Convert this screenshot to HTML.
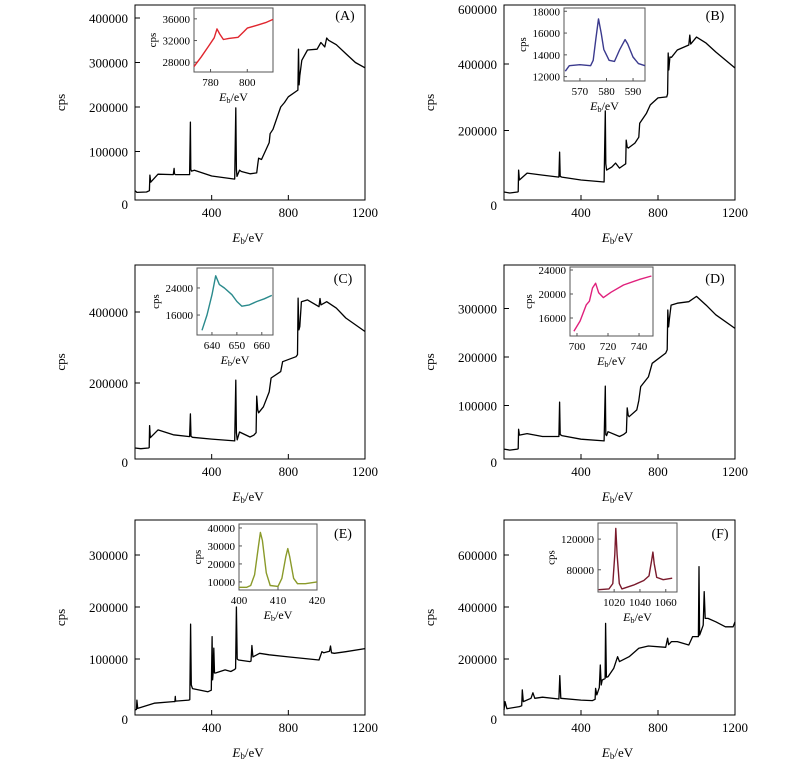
<!DOCTYPE html>
<html><head><meta charset="utf-8"><style>
html,body{margin:0;padding:0;background:#fff;}
svg{display:block;font-family:"Liberation Serif",serif;}
</style></head><body>
<svg id="fig" width="800" height="774" viewBox="0 0 800 774" xmlns="http://www.w3.org/2000/svg"></svg>
<script>
// ---- Main survey spectra data (binding energy eV, counts) ----
const eA=[0,10,60,75,78,82,120,200,204,206,210,285,289,291,295,310,400,520,526,529,532,545,555,600,635,640,645,660,700,705,720,760,780,800,850,853,856,860,870,900,950,970,990,1000,1010,1050,1100,1150,1200];
const cA=[12000,8000,9000,12000,47000,31000,49000,48000,62000,50000,48000,48000,166000,60000,56000,58000,45000,38000,198000,60000,44000,58000,55000,50000,52000,70000,85000,82000,120000,140000,150000,200000,210000,223000,238000,330000,250000,270000,305000,328000,330000,345000,335000,355000,350000,340000,320000,300000,288000];
const eB=[0,30,70,74,76,80,120,200,285,289,292,300,400,520,526,529,533,560,580,600,620,632,635,640,645,680,700,705,740,760,800,845,850,853,856,862,870,900,960,965,970,1000,1050,1100,1200];
const cB=[15000,12000,15000,16000,81000,51000,72000,66000,60000,135000,62000,60000,51000,45000,259000,100000,81000,90000,102000,87000,95000,100000,171000,150000,147000,162000,180000,222000,252000,277000,298000,301000,310000,433000,382000,421000,420000,442000,457000,487000,460000,481000,463000,436000,388000];
const eC=[0,30,70,74,76,80,120,200,285,289,292,300,400,520,526,529,533,545,600,620,632,635,640,645,670,700,710,760,770,840,848,851,855,860,868,900,960,965,970,1000,1050,1100,1200];
const cC=[17000,15000,17000,18000,80000,46000,68000,54000,49000,113000,50000,47000,42000,37000,208000,60000,40000,62000,48000,53000,60000,163000,125000,116000,133000,175000,214000,232000,260000,274000,280000,439000,350000,359000,429000,434000,415000,438000,420000,429000,411000,383000,345000];
const eD=[0,30,70,74,76,80,120,200,285,289,292,300,400,520,526,529,533,540,600,620,636,640,645,650,690,700,710,750,770,840,848,851,855,860,868,900,960,1000,1050,1100,1200];
const cD=[10000,8000,10000,11000,51000,39000,42000,36000,36000,107000,40000,38000,30500,27000,140000,40000,38000,46000,36000,40000,45000,95000,80000,77000,91000,110000,139000,159000,187000,208000,215000,297000,262000,280000,307000,311000,314000,325000,307000,287000,259000];
const eE=[0,8,10,14,100,200,208,210,212,280,286,290,294,300,380,398,402,405,408,411,415,420,470,500,520,525,529,533,540,600,605,610,615,650,700,800,960,975,985,1015,1020,1025,1040,1100,1200];
const cE=[2000,3000,21000,5000,15000,18000,18000,28000,19000,21000,22000,167000,50000,43000,37000,40000,143000,60000,75000,121000,73000,73000,79000,76000,80000,82000,200000,100000,98000,95000,96000,126000,104000,111000,108000,104000,98000,114000,112000,115000,125000,112000,111000,114000,120000];
const eF=[0,5,15,80,92,95,100,140,150,160,200,285,290,295,400,460,473,476,482,495,500,505,510,525,528,532,540,570,590,600,650,700,750,840,850,855,870,900,960,980,1010,1013,1016,1020,1035,1040,1045,1060,1100,1150,1190,1200];
const cF=[4000,36000,9000,17000,20000,81000,36000,49000,70000,49000,53000,46000,136000,49000,42000,40000,45000,87000,62000,90000,177000,100000,119000,125000,337000,130000,132000,164000,209000,190000,209000,241000,250000,245000,280000,255000,267000,267000,254000,286000,286000,555000,292000,300000,330000,459000,356000,356000,343000,324000,324000,343000];
// ---- Main tick labels ----
const xTicks=[0,400,800,1200];
const yTicksA=[0,100000,200000,300000,400000];
const yTicksB=[0,200000,400000,600000];
const yTicksC=[0,200000,400000];
const yTicksD=[0,100000,200000,300000];
const yTicksE=[0,100000,200000,300000];
const yTicksF=[0,200000,400000,600000];
// ---- Inset high-resolution spectra ----
const ieA=[771,775,779,782,783.5,785,787,790,795,798,800,805,810,814];
const icA=[27200,29000,31000,32500,34150,33200,32200,32400,32600,33600,34300,34800,35300,35900];
const ieB=[564.5,566,570,574,575,576,577,578,579,581,583,585,587,588,590,592,594.5];
const icB=[12500,13000,13100,13000,13500,15500,17300,16000,14500,13500,13400,14500,15400,15000,13800,13200,13000];
const ieC=[636,638,640,641.5,643,645,648,650,652,655,658,661,664];
const icC=[11500,16000,22000,27600,25000,24000,22000,20000,18600,19000,20000,20800,21800];
const ieD=[698,702,706,708,710,712,714,717,722,730,740,748];
const icD=[13800,15500,18200,18800,21000,21800,20200,19400,20300,21500,22400,23000];
const ieE=[400,402,403,404,405,405.5,406,407,408,410,411,412,412.5,413,414,415,417,420];
const icE=[7000,7000,8000,14000,30000,37500,33000,15000,8000,7500,12000,24000,28500,24000,12000,9000,9000,10000];
const ieF=[1008,1016,1019,1020.5,1021.3,1022.3,1024,1026,1035,1043,1047,1049,1050,1051,1053,1058,1065];
const icF=[54000,55000,62000,100000,134000,100000,62000,55000,60000,66000,72000,92000,103000,88000,70000,67000,69000];
const itxA=[780,800], ityA=[28000,32000,36000];
const itxB=[570,580,590], ityB=[12000,14000,16000,18000];
const itxC=[640,650,660], ityC=[16000,24000];
const itxD=[700,720,740], ityD=[16000,20000,24000];
const itxE=[400,410,420], ityE=[10000,20000,30000,40000];
const itxF=[1020,1040,1060], ityF=[80000,120000];

const NS="http://www.w3.org/2000/svg";
const svg=document.getElementById('fig');
function mk(tag,attrs,parent){const el=document.createElementNS(NS,tag);for(const k in attrs)el.setAttribute(k,attrs[k]);(parent||svg).appendChild(el);return el;}
function ebLabel(x,y,size,parent){
  const t=mk('text',{x:x,y:y,'font-size':size,'text-anchor':'middle'},parent);
  
  
  t.innerHTML='<tspan font-style="italic">E</tspan><tspan font-size="'+(size*0.7)+'" dy="2">b</tspan><tspan dy="-2">/eV</tspan>';
}

function panel(p){
  const g=mk('g',{});
  
  
  const X=v=>p.L+(v-0)/1200*(p.R-p.L);
  const Y=v=>p.y0-v/100000*p.k;
  const fr=mk('rect',{x:p.L,y:p.T,width:p.R-p.L,height:p.B-p.T,fill:'none',stroke:'#000','stroke-width':1},g);
  
  
  xTicks.forEach(v=>{
    const tk=mk('line',{x1:X(v),x2:X(v),y1:p.B,y2:p.B-5,stroke:'#000','stroke-width':1},g);
    
    
    if(v>0){
      const t=mk('text',{x:X(v),y:p.B+17,'font-size':13,'text-anchor':'middle'},g);
      
      
      t.textContent=v;
    }
  });
  p.yt.forEach(v=>{
    const yy=Y(v);
    if(v>0){
      const tk=mk('line',{x1:p.L,x2:p.L+5,y1:yy,y2:yy,stroke:'#000','stroke-width':1},g);
      
      
    }
    const t=mk('text',{x:p.L-7,y:Math.max(yy+5,14)+(v===0?8:0),'font-size':13,'text-anchor':'end'},g);
    
    
    t.textContent=v;
  });
  const yl=mk('text',{x:0,y:0,'font-size':13,'text-anchor':'middle',transform:'translate('+(p.L-70)+','+((p.T+p.B)/2)+') rotate(-90)'},g);
  
  
  yl.textContent='cps';
  ebLabel((p.L+p.R)/2-2,p.B+42,13,g);
  const d=p.e.map((v,i)=>(i?'L':'M')+X(v).toFixed(1)+','+Y(p.c[i]).toFixed(1)).join('');
  const ln=mk('path',{d:d,fill:'none',stroke:'#000','stroke-width':1.3,'stroke-linejoin':'round'},g);
  
  
  const pl=mk('text',{x:p.lx,y:p.ly,'font-size':14,'text-anchor':'middle'},g);
  
  
  pl.textContent='('+p.id+')';
  // inset
  const q=p.ins;
  const ig=mk('g',{},g);
  
  
  const bg=mk('rect',{x:q.L,y:q.T,width:q.R-q.L,height:q.B-q.T,fill:'#fff',stroke:'#555','stroke-width':1},ig);
  
  
  const IX=v=>q.L+(v-q.xd[0])/(q.xd[1]-q.xd[0])*(q.R-q.L);
  const IY=v=>q.B-(v-q.yd[0])/(q.yd[1]-q.yd[0])*(q.B-q.T);
  q.xt.forEach(v=>{
    const tk=mk('line',{x1:IX(v),x2:IX(v),y1:q.B,y2:q.B-3,stroke:'#555','stroke-width':1},ig);
    
    
    const t=mk('text',{x:IX(v),y:q.B+14,'font-size':11,'text-anchor':'middle'},ig);
    
    
    t.textContent=v;
  });
  let maxc=0;
  q.yt.forEach(v=>{
    maxc=Math.max(maxc,String(v).length);
    const tk=mk('line',{x1:q.L,x2:q.L+3,y1:IY(v),y2:IY(v),stroke:'#555','stroke-width':1},ig);
    
    
    const t=mk('text',{x:q.L-4,y:IY(v)+4,'font-size':11,'text-anchor':'end'},ig);
    
    
    t.textContent=v;
  });
  const cx=q.L-10-maxc*5.6;
  const il=mk('text',{x:0,y:0,'font-size':11,'text-anchor':'middle',transform:'translate('+cx+','+((q.T+q.B)/2)+') rotate(-90)'},ig);
  
  
  il.textContent='cps';
  ebLabel((q.L+q.R)/2,q.B+29,12,ig);
  const d2=q.e.map((v,i)=>(i?'L':'M')+IX(v).toFixed(1)+','+IY(q.c[i]).toFixed(1)).join('');
  const l2=mk('path',{d:d2,fill:'none',stroke:q.col,'stroke-width':1.4,'stroke-linejoin':'round'},ig);
  
  
}

panel({id:'A',L:135,R:365,T:5,B:200,y0:196,k:44.5,yt:yTicksA,e:eA,c:cA,lx:345,ly:20,
  ins:{L:194,R:273,T:8,B:72,xd:[771,814],yd:[26200,38000],xt:itxA,yt:ityA,e:ieA,c:icA,col:'#e0262e'}});
panel({id:'B',L:504,R:735,T:5,B:200,y0:197,k:33.25,yt:yTicksB,e:eB,c:cB,lx:715,ly:20,
  ins:{L:564,R:645,T:8,B:81,xd:[564,594.5],yd:[11600,18300],xt:itxB,yt:ityB,e:ieB,c:icB,col:'#3b3a8e'}});
panel({id:'C',L:135,R:365,T:265,B:459,y0:454,k:35.5,yt:yTicksC,e:eC,c:cC,lx:343,ly:283,
  ins:{L:197,R:273,T:268,B:335,xd:[634,664.5],yd:[10100,29900],xt:itxC,yt:ityC,e:ieC,c:icC,col:'#2a8a8c'}});
panel({id:'D',L:504,R:735,T:265,B:459,y0:454,k:48.5,yt:yTicksD,e:eD,c:cD,lx:715,ly:283,
  ins:{L:570,R:653,T:267,B:336,xd:[695.5,749],yd:[13000,24500],xt:itxD,yt:ityD,e:ieD,c:icD,col:'#e0207c'}});
panel({id:'E',L:135,R:365,T:520,B:715,y0:711,k:52,yt:yTicksE,e:eE,c:cE,lx:343,ly:538,
  ins:{L:239,R:317,T:524,B:590,xd:[400,420],yd:[5500,42200],xt:itxE,yt:ityE,e:ieE,c:icE,col:'#8a9a2a'}});
panel({id:'F',L:504,R:735,T:520,B:715,y0:711,k:26,yt:yTicksF,e:eF,c:cF,lx:720,ly:538,
  ins:{L:598,R:677,T:523,B:592,xd:[1007.5,1068.7],yd:[51000,141000],xt:itxF,yt:ityF,e:ieF,c:icF,col:'#7a1a2c'}});
</script>
</body></html>
